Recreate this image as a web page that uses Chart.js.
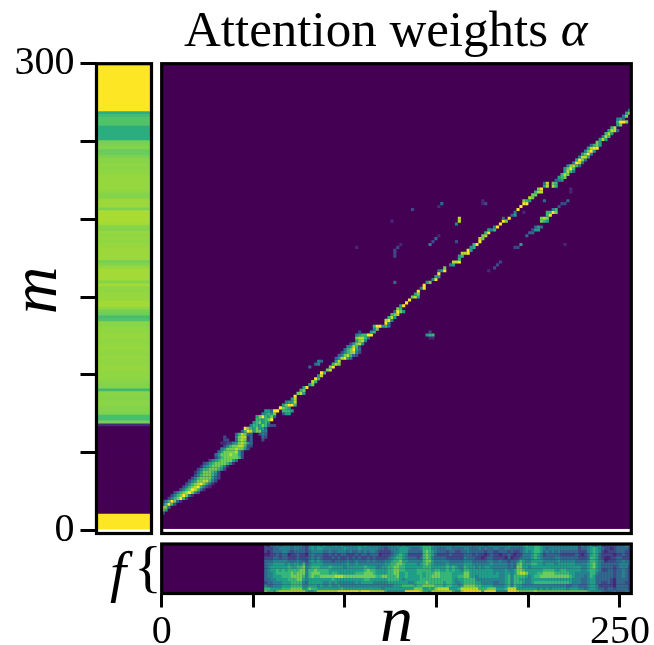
<!DOCTYPE html>
<html>
<head>
<meta charset="utf-8">
<title>Attention weights</title>
<script src="https://cdn.jsdelivr.net/npm/chart.js@4/dist/chart.umd.min.js"></script>
<style>
    html, body { margin: 0; padding: 0; background: #ffffff; }
    #page { position: relative; width: 654px; height: 645px; overflow: hidden; }
    canvas { position: absolute; left: 0; top: 0; }
    .label { position: absolute; font-family: 'Liberation Serif', serif; color: #000000; white-space: nowrap; line-height: 1; }
</style>
</head>
<body>
<div id="page">
    <canvas id="frameChart" width="654" height="645"></canvas>
    <canvas id="attentionChart" width="654" height="645"></canvas>
    <canvas id="featureChart" width="654" height="645"></canvas>
    <div class="label" style="left:184px;top:4px;font-size:51px;">Attention weights <i>α</i></div>
    <div class="label" style="left:110px;top:543px;font-size:58px;"><i>f</i></div>
    <div class="label" style="left:134px;top:538px;font-size:58px;">{</div>
</div>
<script>
// --- Data ---
const mTicks = [0, 50, 100, 150, 200, 250, 300];
const mTickLabels = ['0', '', '', '', '', '', '300'];
const nTicks = [0, 50, 100, 150, 200, 250];
const nTickLabels = ['0', '', '', '', '', '250'];

// grid steps of the matrix: one cell is this many n / m units
const nStep = 1.6;
const mStep = 1.875;

// left strip, one value per row, top row first
const frameLevels = [
    1, 1, 1, 1, 1, 1, 1, 1, 1, 1, 1, 1, 1, 1, 1, 1, 1,
    .62, .69, .72, .72, .72, .62, .62, .62, .62, .62,
    .79, .8, .81, .77, .77, .8,
    .82, .82, .83, .82, .83, .83, .84, .84, .84, .84, .84, .83,
    .81, .81, .85, .85, .85, .8, .87, .87, .87, .87, .86, .82, .81,
    .84, .83, .84, .83, .84, .84, .85, .85, .85, .85,
    .79, .81, .84, .86, .86, .86, .86, .81, .86, .83, .83, .84, .84, .84,
    .86, .86, .83, .79, .78, .7, .72, .82, .82,
    .83, .83, .84, .84, .83, .83, .84, .84, .83, .83, .84, .83, .83, .84, .84, .83, .83, .83,
    .82, .81, .81, .68, .82, .82, .81, .82, .82, .81, .81, .8, .7, .7, .79, .12,
    0, 0, 0, 0, 0, 0, 0, 0, 0, 0, 0, 0, 0, 0, 0,
    0, 0, 0, 0, 0, 0, 0, 0, 0, 0, 0, 0, 0, 0, 0,
    1, 1, 1, 1, 1
];

// attention matrix, sparse: [row, first column, digits 0-9 for the cells in that run]
const attentionRuns = [
    [5, 0, '3'], [6, 0, '85'], [7, 0, '973'], [8, 0, '46962'], [9, 0, '2469731'], [10, 2, '2467962'],
    [11, 3, '24679731'], [12, 4, '246789742'], [13, 6, '246798631'], [14, 7, '2467896421'], [15, 8, '2467897531'],
    [16, 9, '2457788642'], [17, 10, '2467777532'], [18, 11, '246777642'], [19, 11, '135777652'],
    [20, 12, '2466777652'], [21, 13, '1456777641'], [22, 14, '23567777641'], [23, 16, '2456777753'],
    [24, 18, '2467777762'], [25, 18, '3577787752'], [26, 19, '357777852'], [27, 20, '4577787752'],
    [28, 21, '246778862'], [28, 30, '2'], [29, 20, '11224578752'], [29, 30, '3'],
    [30, 21, '22'], [30, 25, '37871'], [30, 30, '3'], [30, 34, '2'],
    [31, 21, '2'], [31, 25, '47881'], [31, 30, '3'], [31, 34, '32'],
    [32, 25, '36873'], [32, 30, '3'], [32, 33, '243'],
    [33, 27, '369857744'], [34, 28, '97657553'], [35, 30, '4665763'], [35, 37, '22'],
    [36, 31, '567564'], [37, 32, '665679'], [38, 32, '5796573'], [39, 34, '45657'], [39, 41, '255'],
    [40, 35, '553'], [40, 38, '99'], [40, 41, '6665'], [41, 40, '9765'], [42, 41, '57996'],
    [43, 42, '4558'], [44, 44, '58'], [45, 45, '9'], [46, 46, '785'], [47, 47, '67'], [48, 48, '59'],
    [49, 50, '57'], [50, 51, '86'], [51, 52, '96'], [52, 53, '58'], [53, 54, '96'], [54, 56, '78'],
    [55, 57, '79'], [55, 50, '3'], [56, 52, '34'], [56, 58, '687'], [57, 53, '43'], [57, 59, '58'], [58, 59, '358953'],
    [59, 60, '3478632'], [60, 61, '2467842'], [61, 62, '367953'], [62, 63, '45862'], [63, 64, '25785'],
    [64, 66, '5784'], [65, 66, '78863'], [65, 91, '11'], [66, 66, '456699'], [66, 90, '566'],
    [67, 67, '2'], [67, 71, '56'], [67, 91, '2'], [68, 72, '47'], [69, 72, '699563'], [70, 76, '94'],
    [71, 76, '894'], [72, 77, '685'], [73, 78, '678'], [74, 79, '3975'], [75, 80, '76'], [76, 81, '59'],
    [77, 83, '9'], [78, 84, '9'], [79, 85, '785'], [80, 86, '57'], [81, 87, '9'], [82, 88, '49'],
    [83, 89, '9'], [84, 79, '3'], [84, 90, '57'], [85, 92, '49'], [86, 93, '55'], [87, 94, '9'],
    [88, 94, '359'], [88, 111, '1'], [89, 96, '7'], [89, 113, '2'], [90, 98, '45'], [90, 114, '2'],
    [91, 99, '889'], [91, 115, '2'], [92, 101, '6'], [93, 79, '2'], [93, 101, '56'], [94, 79, '2'],
    [94, 102, '889'], [95, 79, '2'], [95, 104, '95'], [96, 66, '1'], [96, 80, '2'], [96, 105, '56'],
    [96, 120, '22'], [97, 81, '1'], [97, 91, '4'], [97, 106, '69'], [97, 122, '5'], [97, 137, '1'],
    [98, 92, '2'], [98, 100, '2'], [98, 108, '9'], [99, 93, '3'], [99, 108, '87'], [100, 94, '1'],
    [100, 109, '78'], [100, 124, '3'], [101, 110, '69'], [101, 125, '33'], [102, 111, '546'], [102, 126, '255'],
    [103, 113, '49'], [103, 127, '353'], [104, 100, '4'], [104, 115, '9'], [105, 78, '1'], [105, 101, '8'],
    [105, 116, '97'], [105, 129, '765'], [106, 101, '8'], [106, 116, '3'], [106, 118, '9'], [106, 129, '787'],
    [107, 119, '35'], [107, 131, '69'], [108, 120, '4'], [108, 123, '1'], [108, 131, '6697'], [109, 85, '2'],
    [109, 121, '9'], [109, 133, '46'], [110, 94, '1'], [110, 122, '9'], [110, 135, '2'], [111, 95, '3'],
    [111, 109, '1'], [111, 110, '2'], [111, 123, '99'], [111, 136, '22'], [112, 109, '1'], [112, 123, '765'],
    [112, 130, '3'], [112, 138, '3'], [113, 125, '87'], [114, 126, '77'], [115, 127, '688'], [115, 139, '1'],
    [116, 128, '79'], [116, 139, '1'], [117, 130, '58'], [117, 133, '86'], [118, 130, '38'], [118, 133, '76'],
    [119, 134, '345'], [120, 135, '567'], [121, 136, '687'], [122, 137, '5863'], [123, 137, '5796'],
    [124, 138, '47863'], [125, 140, '4983'], [126, 141, '5973'], [127, 142, '4885'], [128, 143, '5794'],
    [129, 144, '4795'], [130, 145, '5899'], [131, 146, '3675'], [132, 148, '75'], [133, 149, '585'],
    [134, 150, '486'], [135, 151, '685'], [136, 152, '5883'], [137, 153, '68'], [138, 155, '57'],
    [139, 155, '6997'], [140, 155, '453'], [141, 157, '47'], [142, 158, '57'], [143, 159, '48']
];

// bottom strip, first column of the strings, then one string per row, top row first
const featureFirstColumn = 35;
const featureRows = [
    '2133434443 4443245454 5444545444 4454544444 3344454544 4445666544 4444344444 4344434444 4445444456 5566544444 4444444243 4544522222 33343',
    '2223344443 4433245455 4444444544 4454444443 3234445554 3334666443 3344333344 3334343344 3344333345 5566543444 4444444233 4565432212 33332',
    '2123334432 3333234444 3343344434 3343434432 2223445553 3333676543 3323322334 3333323322 3332322345 4566534343 4333333222 4565421222 33322',
    '1122323312 2322134333 2232323322 2323323331 2223456542 2222676532 2223222233 3232212322 1223212244 4565423333 3222223212 3565322221 22322',
    '2223323322 2322234343 2223232232 3232232322 2234566543 3323676433 3322222243 3322123322 2213122344 4565433334 4333333222 3665321122 33222',
    '3334444433 3433245454 3332333343 3433343433 3445667554 4444677544 4443333344 4333334433 4332334654 4555544444 5444443333 4665431222 33433',
    '3445555454 5546345555 4444444454 4544444444 4556677655 5545676544 4454444455 5444444544 4443436755 5665545554 5555554444 5675433333 34443',
    '3455555565 5667456665 5565555455 5555655544 5566776655 5555666555 5565654465 5545455444 4443437755 4555555555 5555555544 5675433332 34442',
    '3455656566 6677466766 6655555555 5555676655 5566776655 5566666566 5565655466 5555555544 4454457765 5555566665 5665555544 5665422332 33432',
    '3445666667 6777467776 6656655555 5666777655 5566775565 5566566677 6666555577 5555555545 4455457887 5556677776 6666554444 4664333332 33432',
    '3445556667 7776467667 7777888777 7777777766 7766675565 5556566777 6666556677 5545555555 4456466665 4566777777 7777654443 4653333332 33432',
    '3344555566 6775455555 5556555555 5555665555 5566665455 5556666666 6666545566 6644444444 4456466554 4555555555 5555544433 4553333321 33332',
    '2334445556 6664355555 4454544444 4545555444 4455555554 4566676666 6566544566 6655444433 4456466654 4566666666 6666544433 4553322321 33322',
    '4334445556 6664455545 4454454444 4444444444 4444555666 6566777766 6566554577 7766555544 4456465544 4444444444 4443344333 4554222221 33332',
    '6655556667 7775576655 5555556555 5555555555 4555555555 5777556578 8885556888 8886667775 5568885555 5554545455 5554555443 4554332332 33332',
    '7665788888 8888655688 8888899999 9989998888 8655555599 9998665888 8888655899 9999699995 5559998777 7787777777 7777777777 6555543334 33343'
];

// --- Viridis colours ---
const viridisStops = ['#440154', '#482878', '#3e4989', '#31688e', '#26828e', '#1f9e89', '#35b779', '#6ece58', '#b5de2b', '#fde725'];

function hexToRgb(hex) {
    return [1, 3, 5].map((i) => parseInt(hex.slice(i, i + 2), 16));
}

function viridis(t) {
    const pos = Math.min(Math.max(t, 0), 1) * (viridisStops.length - 1);
    const lo = Math.floor(pos);
    const hi = Math.min(lo + 1, viridisStops.length - 1);
    const a = hexToRgb(viridisStops[lo]);
    const b = hexToRgb(viridisStops[hi]);
    const mix = a.map((v, i) => Math.round(v + (b[i] - v) * (pos - lo)));
    return 'rgb(' + mix.join(',') + ')';
}

// --- Shared bits ---
const serifFont = 'Liberation Serif';
const page = { width: 654, height: 645 };
const plotLeft = 161.7;
const plotRight = 631.3;
const plotTop = 63.7;
const plotBottom = 533.5;
const mMin = -1.93;
const mMax = 299.9;
const nMax = 256.2;

// dark fill behind the cells and the black box round each panel
const plotFrame = {
    id: 'plotFrame',
    beforeDatasetsDraw(chart, args, opts) {
        if (!opts.fill) return;
        const { ctx, chartArea, scales } = chart;
        const bottom = opts.fillFloor === undefined ? chartArea.bottom : scales.y.getPixelForValue(opts.fillFloor);
        ctx.save();
        ctx.fillStyle = opts.fill;
        ctx.fillRect(chartArea.left, chartArea.top, chartArea.width, bottom - chartArea.top);
        ctx.restore();
    },
    afterDraw(chart) {
        const { ctx, chartArea } = chart;
        ctx.save();
        ctx.strokeStyle = '#000000';
        ctx.lineWidth = 3.2;
        ctx.strokeRect(chartArea.left, chartArea.top, chartArea.width, chartArea.height);
        ctx.restore();
    }
};

const baseOptions = {
    responsive: false,
    animation: false,
    events: [],
    plugins: { legend: { display: false }, tooltip: { enabled: false } }
};

function tickLabelFont() {
    return { family: serifFont, size: 40 };
}

// --- Left strip ---
const framePoints = frameLevels.map((level, i) => ({ x: 1, y: (frameLevels.length - i) * mStep }));

new Chart(document.getElementById('frameChart'), {
    type: 'bar',
    data: {
        datasets: [{
            data: framePoints,
            backgroundColor: frameLevels.map(viridis),
            barThickness: 3.4,
            borderWidth: 0
        }]
    },
    options: {
        ...baseOptions,
        indexAxis: 'y',
        layout: { padding: { left: 0, top: plotTop, right: page.width - 151.5, bottom: page.height - plotBottom } },
        plugins: { ...baseOptions.plugins, plotFrame: {} },
        scales: {
            x: { type: 'linear', display: false, min: 0, max: 1 },
            y: {
                type: 'linear',
                offset: false,
                min: mMin,
                max: mMax,
                afterFit(scale) { scale.width = 96.5; },
                afterBuildTicks(scale) { scale.ticks = mTicks.map((value) => ({ value })); },
                grid: { offset: false, drawOnChartArea: false, tickLength: 16, tickWidth: 3, tickColor: '#000000' },
                border: { display: false },
                ticks: {
                    autoSkip: false,
                    padding: 6,
                    color: '#000000',
                    font: tickLabelFont(),
                    callback(value) { return mTickLabels[mTicks.indexOf(value)]; }
                },
                title: {
                    display: true,
                    text: ' m',
                    color: '#000000',
                    padding: { top: 6, bottom: 0 },
                    font: { family: serifFont, style: 'italic', size: 66, lineHeight: 1 }
                }
            }
        }
    },
    plugins: [plotFrame]
});

// --- Attention matrix ---
const attentionPoints = [];
const attentionColors = [];
attentionRuns.forEach(([row, column, digits]) => {
    [...digits].forEach((digit, i) => {
        if (digit === '0') return;
        attentionPoints.push({ x: (column + i + 0.5) * nStep, y: (row + 1) * mStep });
        attentionColors.push(viridis(Number(digit) / 9));
    });
});

new Chart(document.getElementById('attentionChart'), {
    type: 'scatter',
    data: {
        datasets: [{
            data: attentionPoints,
            pointStyle: 'rect',
            pointRadius: 2.2,
            pointBorderWidth: 0,
            pointBackgroundColor: attentionColors
        }]
    },
    options: {
        ...baseOptions,
        layout: { padding: { left: plotLeft, top: plotTop, right: page.width - plotRight, bottom: page.height - plotBottom } },
        plugins: { ...baseOptions.plugins, plotFrame: { fill: '#440154', fillFloor: 1 } },
        scales: {
            x: { type: 'linear', display: false, min: 0, max: nMax },
            y: { type: 'linear', display: false, min: mMin, max: mMax }
        }
    },
    plugins: [plotFrame]
});

// --- Bottom feature strip ---
const featurePoints = [];
const featureColors = [];
featureRows.forEach((rowText, rowIndex) => {
    [...rowText.replace(/ /g, '')].forEach((digit, i) => {
        featurePoints.push({ x: (featureFirstColumn + i + 0.5) * nStep, y: featureRows.length - rowIndex - 0.5 });
        featureColors.push(viridis(Number(digit) / 9));
    });
});

new Chart(document.getElementById('featureChart'), {
    type: 'scatter',
    data: {
        datasets: [{
            data: featurePoints,
            pointStyle: 'rect',
            pointRadius: 2.3,
            pointBorderWidth: 0,
            pointBackgroundColor: featureColors
        }]
    },
    options: {
        ...baseOptions,
        layout: { padding: { left: plotLeft, top: 544, right: page.width - plotRight, bottom: 0 } },
        plugins: { ...baseOptions.plugins, plotFrame: { fill: '#440154' } },
        scales: {
            y: { type: 'linear', display: false, min: 0, max: featureRows.length },
            x: {
                type: 'linear',
                min: 0,
                max: nMax,
                afterFit(scale) { scale.height = page.height - 593.5; },
                afterBuildTicks(scale) { scale.ticks = nTicks.map((value) => ({ value })); },
                grid: { drawOnChartArea: false, tickLength: 14, tickWidth: 3, tickColor: '#000000' },
                border: { display: false },
                ticks: {
                    autoSkip: false,
                    maxRotation: 0,
                    padding: 1,
                    color: '#000000',
                    font: tickLabelFont(),
                    callback(value) { return nTickLabels[nTicks.indexOf(value)]; }
                },
                title: {
                    display: true,
                    text: 'n',
                    color: '#000000',
                    padding: { top: 0, bottom: -12 },
                    font: { family: serifFont, style: 'italic', size: 66, lineHeight: 1 }
                }
            }
        }
    },
    plugins: [plotFrame]
});
</script>
</body>
</html>
